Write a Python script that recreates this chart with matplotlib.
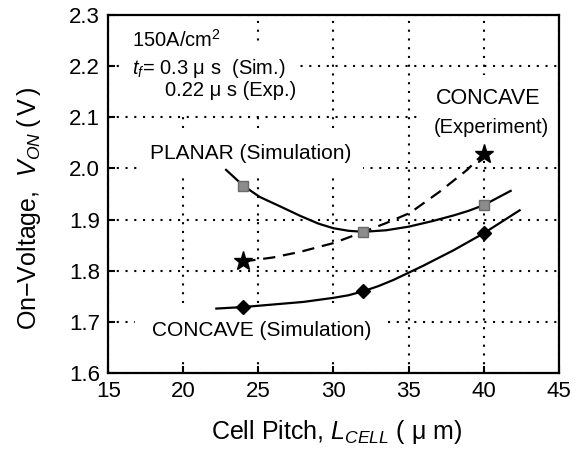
import matplotlib
matplotlib.use("Agg")
import matplotlib.pyplot as plt

plt.rcParams['font.family'] = ['Liberation Sans', 'DejaVu Sans']
plt.rcParams['mathtext.fontset'] = 'custom'
plt.rcParams['mathtext.rm'] = 'Liberation Sans'
plt.rcParams['mathtext.it'] = 'Liberation Sans:italic'

# measured points
pitch = [24, 32, 40]
planar_sim = [1.966, 1.876, 1.928]
concave_sim = [1.729, 1.760, 1.873]
exp_pitch = [24, 40]
concave_exp = [1.818, 2.029]

# fitted curves
planar_curve_x = [22.85, 24, 25.1, 26.5, 27.8, 29.0, 30.0, 31.0, 32.0, 33.5, 35.0, 36.6, 38.0, 39.0, 40.0, 41.8]
planar_curve_y = [1.997, 1.966, 1.944, 1.925, 1.907, 1.892, 1.883, 1.878, 1.876, 1.879, 1.886, 1.897, 1.908, 1.917, 1.928, 1.956]
concave_curve_x = [22.2, 24, 26, 28, 30, 31, 32, 33, 34, 36, 38, 40, 42.4]
concave_curve_y = [1.726, 1.729, 1.734, 1.739, 1.747, 1.752, 1.760, 1.770, 1.782, 1.810, 1.840, 1.873, 1.918]
exp_curve_x = [24, 26, 27.8, 30, 31.1, 32, 33.5, 35.1, 37.1, 38.9, 40]
exp_curve_y = [1.818, 1.826, 1.837, 1.854, 1.866, 1.876, 1.893, 1.913, 1.955, 1.997, 2.029]

fig = plt.figure(figsize=(5.85, 4.5), dpi=100)
ax = fig.add_axes([0.185, 0.171, 0.770, 0.796])

ax.plot(planar_curve_x, planar_curve_y, color='black', lw=1.6, zorder=3)
ax.plot(concave_curve_x, concave_curve_y, color='black', lw=1.6, zorder=3)
ax.plot(exp_curve_x, exp_curve_y, color='black', lw=1.6, ls=(0, (5.5, 3.5)), zorder=3)

ax.plot(pitch, planar_sim, ls='none', marker='s', ms=7, mfc='#8c8c8c', mec='#6a6a6a', zorder=4)
ax.plot(pitch, concave_sim, ls='none', marker='D', ms=7.5, mfc='black', mec='black', zorder=4)
ax.plot(exp_pitch, concave_exp, ls='none', marker='*', ms=14, mfc='black', mec='black', zorder=4)

ax.set_xlim(15, 45)
ax.set_ylim(1.6, 2.3)
ax.set_xticks(range(15, 46, 5))
ax.set_yticks([1.6 + 0.1 * i for i in range(8)])
ax.set_yticklabels([f"{1.6 + 0.1 * i:.1f}" for i in range(8)])
ax.tick_params(direction='in', length=5, width=1.5, labelsize=16, pad=6)
ax.grid(True, color='black', ls=(0, (1, 3.2)), lw=1.5)
ax.set_axisbelow(True)
for s in ax.spines.values():
    s.set_linewidth(1.6)
    s.set_zorder(5)


def label(x, y, s, size, pad, ha='left'):
    # white patch under the text hides the grid; drawn first so it never covers other text
    ax.text(x, y, s, fontsize=size, va='center', ha=ha, color='none',
            bbox=dict(facecolor='white', edgecolor='none', pad=pad), zorder=1.5)
    ax.text(x, y, s, fontsize=size, va='center', ha=ha, zorder=2)


label(16.6, 2.251, "150A/cm$^2$", 14.5, 9)
label(16.6, 2.196, "$t_f$= 0.3 μ s  (Sim.)", 14.5, 9)
label(18.8, 2.153, "0.22 μ s (Exp.)", 14.5, 9)
label(17.8, 2.030, "PLANAR (Simulation)", 15, 8)
label(40.3, 2.137, "CONCAVE", 15.5, 9, ha='center')
label(40.5, 2.080, "(Experiment)", 14.5, 9, ha='center')
label(17.9, 1.684, "CONCAVE (Simulation)", 15, 12)

ax.set_xlabel("Cell Pitch, $L_{CELL}$ ( μ m)", fontsize=18)
ax.set_ylabel(r"On−Voltage,  $V_{ON}\;(\,\mathrm{V}\,)$", fontsize=18)
ax.xaxis.set_label_coords(0.508, -0.125)
ax.yaxis.set_label_coords(-0.145, 0.46)

fig.savefig("out.png", dpi=100)
